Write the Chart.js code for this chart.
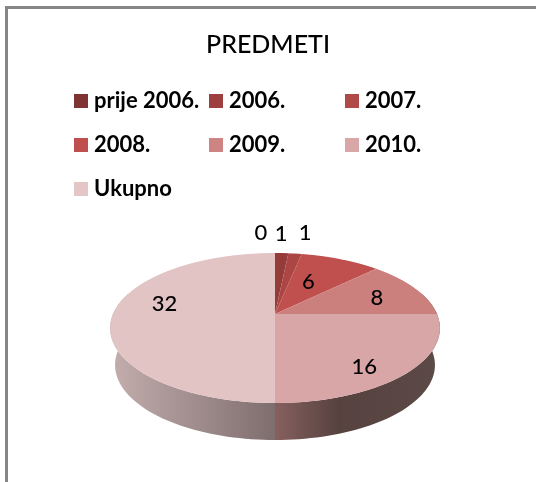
<!DOCTYPE html>
<html>
<head>
<meta charset="utf-8">
<script src="https://cdn.jsdelivr.net/npm/chart.js@4"></script>
<style>
  html, body { margin: 0; padding: 0; background: #fff; }
  #frame { position: absolute; left: 5px; top: 6px; width: 531px; height: 476px; border-left: 3px solid #868686; border-top: 3px solid #868686; box-sizing: border-box; }
  #wrap { position: absolute; left: 0; top: 0; width: 536px; height: 482px; }
</style>
</head>
<body>
<div id="frame"></div>
<div id="wrap"><canvas id="pie" width="536" height="482"></canvas></div>
<script>
const categories = ['prije 2006.', '2006.', '2007.', '2008.', '2009.', '2010.', 'Ukupno'];
const values = [0, 1, 1, 6, 8, 16, 32];
const legendColors = ['#7f3332', '#9c3f3e', '#b04a48', '#c0504d', '#cd8482', '#d9a7a7', '#e5c6c6'];
const sliceColors = ['#7f3332', '#953b3a', '#ab4644', '#c0504d', '#cb807e', '#d8a6a6', '#e2c4c5'];

// where the value labels sit: fraction of radius, then a small nudge
const labelRadius = [1.25, 1.25, 1.25, 0.5, 0.7, 0.7, 0.7];
const labelShift = [[-14, -8], [-2, -7], [6, -8], [-2, -3], [2, 2], [1, 13], [3, -10]];

const FONT = 'Lato, "Open Sans", sans-serif';

// perspective of the tilted disc
const CX = 275, CY = 314, BX = 162, BY = 72.4, K = 0.1867;
const DEPTH = 37, BOTTOM_SCALE = 0.97;

function project(u, v) {
    const w = 1 - K * v;
    return { x: CX + BX * u / w, y: CY + BY * v / w };
}

function wallPath(ctx, from, to) {
    const steps = 60;
    ctx.beginPath();
    for (let i = 0; i <= steps; i++) {
        const a = from + (to - from) * i / steps;
        const p = project(Math.cos(a), Math.sin(a));
        if (i === 0) ctx.moveTo(p.x, p.y); else ctx.lineTo(p.x, p.y);
    }
    for (let i = steps; i >= 0; i--) {
        const a = from + (to - from) * i / steps;
        const p = project(Math.cos(a), Math.sin(a));
        ctx.lineTo(CX + (p.x - CX) * BOTTOM_SCALE, p.y + DEPTH);
    }
    ctx.closePath();
}

function drawWalls(ctx) {
    const right = ctx.createLinearGradient(275, 0, 436, 0);
    right.addColorStop(0, '#86605f');
    right.addColorStop(0.4, '#56423f');
    right.addColorStop(1, '#5c4a48');
    wallPath(ctx, -0.3, Math.PI / 2);
    ctx.fillStyle = right;
    ctx.fill();

    const left = ctx.createLinearGradient(114, 0, 275, 0);
    left.addColorStop(0, '#c2acac');
    left.addColorStop(1, '#7f6e6e');
    wallPath(ctx, Math.PI / 2, Math.PI + 0.3);
    ctx.fillStyle = left;
    ctx.fill();
}

const tiltedPie = {
    id: 'tiltedPie',
    beforeDatasetsDraw(chart) {
        const ctx = chart.ctx;
        const meta = chart.getDatasetMeta(0);
        const arc = meta.data[0];
        const R = arc.outerRadius;
        drawWalls(ctx);
        // each pixel row gets its own affine map, so the arcs come out in perspective
        for (let y = 250; y < 406; y++) {
            const dy = y + 0.5 - CY;
            const v = dy / (BY + K * dy);
            const w = 1 - K * v;
            const a = BX / (w * R);
            const d = BY / (w * w * R);
            ctx.save();
            ctx.beginPath();
            ctx.rect(0, y, chart.width, 1);
            ctx.clip();
            ctx.transform(a, 0, 0, d, CX - a * arc.x, y + 0.5 - d * (arc.y + v * R));
            meta.controller.draw();
            ctx.restore();
        }
        return false;
    },
    afterDraw(chart) {
        const ctx = chart.ctx;
        const meta = chart.getDatasetMeta(0);

        // value labels (returning false above also skips afterDatasetsDraw)
        ctx.save();
        ctx.fillStyle = '#000';
        ctx.textAlign = 'center';
        ctx.textBaseline = 'middle';
        ctx.font = '500 22px ' + FONT;
        meta.data.forEach((el, i) => {
            const mid = (el.startAngle + el.endAngle) / 2;
            const p = project(Math.cos(mid) * labelRadius[i], Math.sin(mid) * labelRadius[i]);
            ctx.fillText(String(values[i]), p.x + labelShift[i][0], p.y + labelShift[i][1]);
        });

        // legend in three fixed columns
        const cols = [74, 209, 345], rows = [101, 145, 189];
        ctx.textAlign = 'left';
        ctx.font = 'bold 22px ' + FONT;
        categories.forEach((c, i) => {
            const x = cols[i % 3], y = rows[Math.floor(i / 3)];
            ctx.fillStyle = legendColors[i];
            ctx.fillRect(x, y - 7, 14, 14);
            ctx.fillStyle = '#000';
            ctx.fillText(c, x + 20, y);
        });
        ctx.restore();
    }
};

new Chart(document.getElementById('pie'), {
    type: 'pie',
    data: {
        labels: categories,
        datasets: [{ data: values, backgroundColor: sliceColors, borderWidth: 0 }]
    },
    options: {
        responsive: false,
        animation: false,
        layout: { padding: { top: 0, left: 100, right: 100, bottom: 40 } },
        plugins: {
            legend: { display: false },
            tooltip: { enabled: false },
            title: {
                display: true,
                text: 'PREDMETI',
                color: '#000',
                font: { family: FONT, size: 25, weight: '500' },
                padding: { top: 30, bottom: 20 }
            }
        }
    },
    plugins: [tiltedPie]
});
</script>
</body>
</html>
